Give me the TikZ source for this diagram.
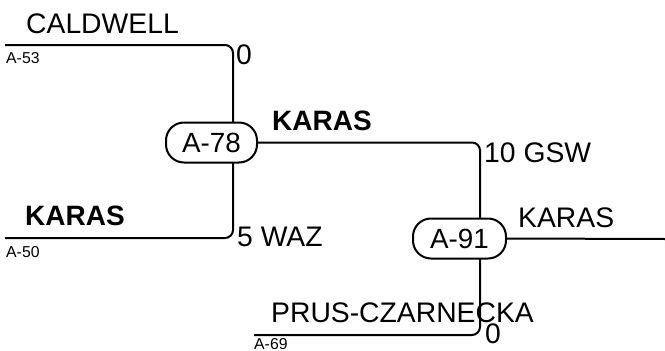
\documentclass[tikz,border=0pt]{standalone}
\usepackage{fontspec}
\setmainfont{Liberation Sans}
\usetikzlibrary{calc,positioning,backgrounds}
\tikzset{
  wire/.style={draw=black, line width=2pt, rounded corners=8pt},
  game/.style={
    draw=black,
    line width=2pt,
    fill=white,
    rounded corners=18pt,
    minimum width=91pt,
    minimum height=40pt,
    inner sep=0pt,
    font=\fontsize{27.8}{30}\selectfont
  },
  plyr/.style={font=\fontsize{28.3}{30}\selectfont, inner sep=0pt, anchor=base west},
  winner/.style={plyr, font=\fontsize{28}{30}\selectfont\bfseries},
  score/.style={plyr},
  slot/.style={font=\fontsize{15.8}{17}\selectfont, inner sep=0pt, anchor=base west},
}

\begin{document}
\begin{tikzpicture}[x=1pt, y=-1pt]
  \useasboundingbox (0,0) rectangle (665,351);
  % games
  \node[game] (m78) at (211.5,142.5) {A-78};
  \node[game, minimum width=93pt] (m91) at (459.5,238.5) {A-91};
  \coordinate (j78) at ($(m78)+(21.5,0)$);
  \coordinate (j91) at ($(m91)+(20.5,0)$);
  % slot ends
  \coordinate (s53) at (5,45);
  \coordinate (s50) at (5,238);
  \coordinate (s69) at (254,335);
  \coordinate (fin) at (665,239);
  \scoped[on background layer]{
    \draw[wire] (s53) -| (j78) |- (s50);
    \draw[wire] (m78.east) -| (j91) |- (s69);
    \draw[wire] (m91.east) -- (fin);
  }
  % players and scores
  \node[plyr] (pCal) at (26,33) {CALDWELL};
  \node[slot] (a53) at (6,63) {A-53};
  \node[score] (sc53) at (236,64.5) {0};
  \node[winner] (pK50) at (25,225) {KARAS};
  \node[slot] (a50) at (6,257) {A-50};
  \node[score] (sc50) at (237,246) {5 WAZ};
  \node[winner] (w78) at (272,130) {KARAS};
  \node[score] (sc78) at (484,162) {10 GSW};
  \node[plyr] (pPrus) at (271,322) {PRUS-CZARNECKA};
  \node[slot] (a69) at (254,349) {A-69};
  \node[score] (sc69) at (485,343) {0};
  \node[plyr] (w91) at (518,227) {KARAS};
\end{tikzpicture}
\end{document}
